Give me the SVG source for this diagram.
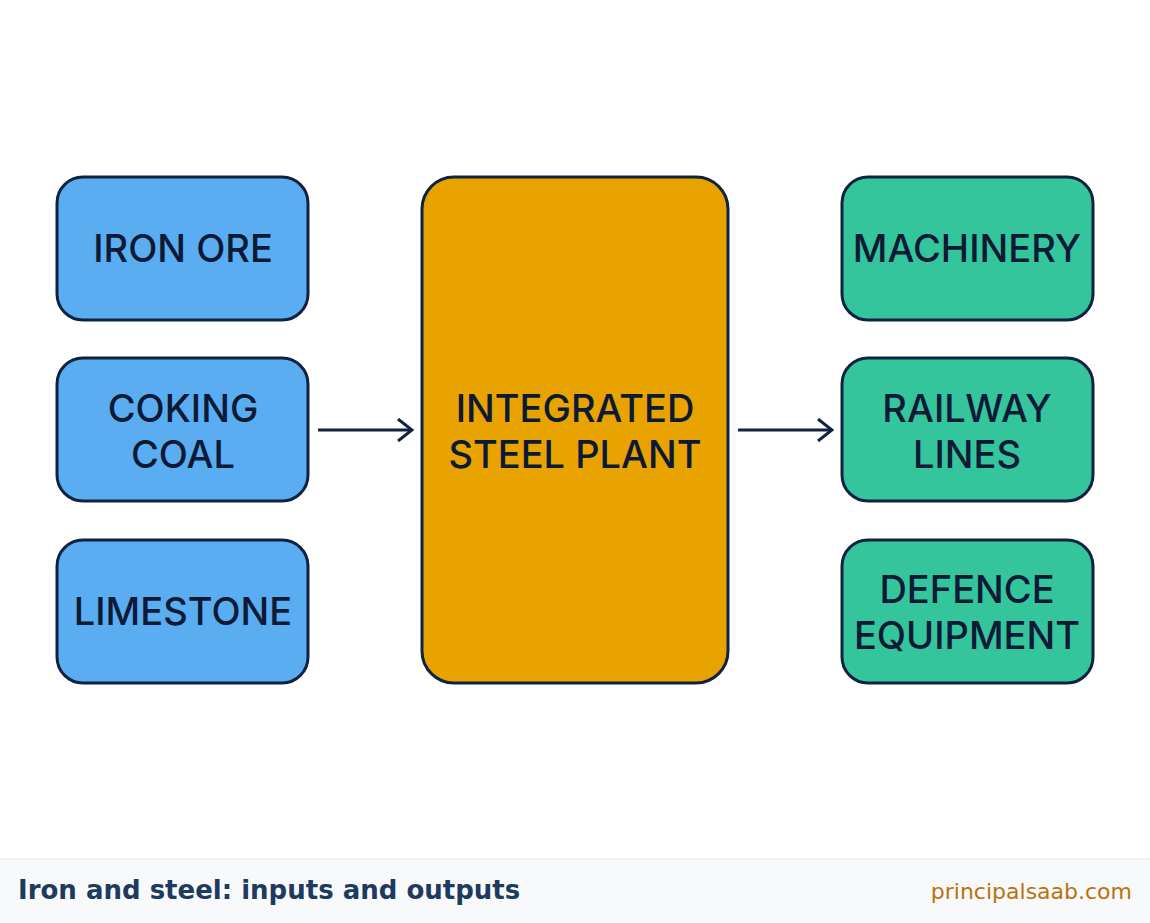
<svg xmlns="http://www.w3.org/2000/svg" width="1150" height="923" viewBox="0 0 1150 923">
<defs>
<style>
.box{stroke:#0f2341;stroke-width:3}
.in{fill:#5aadf0}
.out{fill:#35c59d}
.core{fill:#e9a300}
.lbl{font-family:Inter,"Noto Sans",sans-serif;font-size:38px;font-weight:500;fill:#0c1a36;text-anchor:middle}
.conn{stroke:#0f2341;stroke-width:3;fill:none}
</style>
<marker id="chev" markerWidth="20" markerHeight="24" refX="18" refY="12" orient="auto" markerUnits="userSpaceOnUse">
<path d="M4,1 L18,12 L4,23" fill="none" stroke="#0f2341" stroke-width="3"/>
</marker>
</defs>
<rect width="1150" height="923" fill="#ffffff"/>
<g id="iron-ore">
<rect class="box in" x="57" y="177" width="251" height="143" rx="26"/>
<text class="lbl" x="183" y="262">IRON ORE</text>
</g>
<g id="coking-coal">
<rect class="box in" x="57" y="358" width="251" height="143" rx="26"/>
<text class="lbl" x="183" y="422">COKING</text>
<text class="lbl" x="183" y="468">COAL</text>
</g>
<g id="limestone">
<rect class="box in" x="57" y="540" width="251" height="143" rx="26"/>
<text class="lbl" x="183" y="625">LIMESTONE</text>
</g>
<g id="steel-plant">
<rect class="box core" x="422" y="177" width="306" height="506" rx="32"/>
<text class="lbl" x="575" y="422">INTEGRATED</text>
<text class="lbl" x="575" y="468">STEEL PLANT</text>
</g>
<g id="machinery">
<rect class="box out" x="842" y="177" width="251" height="143" rx="26"/>
<text class="lbl" x="967" y="262">MACHINERY</text>
</g>
<g id="railway-lines">
<rect class="box out" x="842" y="358" width="251" height="143" rx="26"/>
<text class="lbl" x="967" y="422">RAILWAY</text>
<text class="lbl" x="967" y="468">LINES</text>
</g>
<g id="defence-equipment">
<rect class="box out" x="842" y="540" width="251" height="143" rx="26"/>
<text class="lbl" x="967" y="603">DEFENCE</text>
<text class="lbl" x="967" y="649">EQUIPMENT</text>
</g>
<g id="connectors">
<line class="conn" x1="318" y1="430" x2="412" y2="430" marker-end="url(#chev)"/>
<line class="conn" x1="738" y1="430" x2="832" y2="430" marker-end="url(#chev)"/>
</g>
<g id="footer">
<rect x="0" y="859" width="1150" height="64" fill="#f7f9fb"/>
<line x1="0" y1="859" x2="1150" y2="859" stroke="#e3e7eb" stroke-width="1"/>
<text x="18" y="899" font-family="DejaVu Sans,sans-serif" font-size="26" font-weight="bold" fill="#1e3a5f">Iron and steel: inputs and outputs</text>
<text x="1132" y="899" font-family="DejaVu Sans,sans-serif" font-size="22" fill="#b8730c" text-anchor="end">principalsaab.com</text>
</g>
</svg>
